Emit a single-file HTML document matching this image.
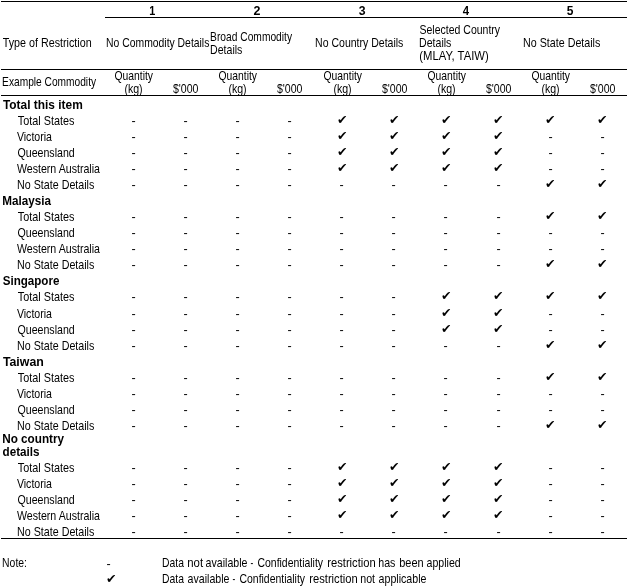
<!DOCTYPE html>
<html lang="en">
<head>
<meta charset="utf-8">
<title>Confidentiality restrictions by commodity, country and state</title>
<style>
html,body{margin:0;padding:0;background:#fff}
body{position:relative;width:627px;height:587px;overflow:hidden;color:#000;font:13px/13px "Liberation Sans",sans-serif}
.ln{position:absolute;height:1px;background:#000}
.row{position:absolute;left:0;width:627px;height:13px}
.row span{position:absolute;left:0;top:0;display:block;white-space:nowrap;transform-origin:0 0}
.row b{font-weight:bold}
.row .c{top:-1px;font:14px/14px "DejaVu Sans","Liberation Sans",sans-serif;transform:scale(.9)}
.row .c.n{top:0}
.row .d.n{top:1px}
</style>
</head>
<body>
<div class="ln" style="top:1px;left:1px;width:626px"></div>
<div class="ln" style="top:17px;left:105px;width:522px"></div>
<div class="ln" style="top:69px;left:1px;width:626px"></div>
<div class="ln" style="top:95px;left:1px;width:626px"></div>
<div class="ln" style="top:538px;left:1px;width:626px"></div>
<div class="row h" style="top:4px">
<span style="transform:translateX(149.27px) scaleX(0.8333)"><b>1</b></span>
<span style="transform:translateX(253.52px) scaleX(0.9600)"><b>2</b></span>
<span style="transform:translateX(358.65px) scaleX(0.9412)"><b>3</b></span>
<span style="transform:translateX(462.78px) scaleX(0.8727)"><b>4</b></span>
<span style="transform:translateX(566.65px) scaleX(0.9231)"><b>5</b></span>
</div>
<div class="row h" style="top:23px">
<span style="transform:translateX(419.49px) scaleX(0.8081)">Selected Country</span>
</div>
<div class="row h" style="top:30px">
<span style="transform:translateX(210.11px) scaleX(0.7874)">Broad Commodity</span>
</div>
<div class="row h" style="top:36px">
<span style="transform:translateX(2.79px) scaleX(0.8253)">Type of Restriction</span>
<span style="transform:translateX(106.10px) scaleX(0.7984)">No Commodity Details</span>
<span style="transform:translateX(315.09px) scaleX(0.8093)">No Country Details</span>
<span style="transform:translateX(419.09px) scaleX(0.8131)">Details</span>
<span style="transform:translateX(523.07px) scaleX(0.8227)">No State Details</span>
</div>
<div class="row h" style="top:43px">
<span style="transform:translateX(210.09px) scaleX(0.8131)">Details</span>
</div>
<div class="row h" style="top:49px">
<span style="transform:translateX(419.35px) scaleX(0.8676)">(MLAY, TAIW)</span>
</div>
<div class="row h" style="top:69px">
<span style="transform:translateX(114.50px) scaleX(0.7958)">Quantity</span>
<span style="transform:translateX(218.50px) scaleX(0.7958)">Quantity</span>
<span style="transform:translateX(323.50px) scaleX(0.7958)">Quantity</span>
<span style="transform:translateX(427.50px) scaleX(0.7958)">Quantity</span>
<span style="transform:translateX(531.50px) scaleX(0.7958)">Quantity</span>
</div>
<div class="row h" style="top:75px">
<span style="transform:translateX(2.12px) scaleX(0.7832)">Example Commodity</span>
</div>
<div class="row h" style="top:82px">
<span style="transform:translateX(124.39px) scaleX(0.8144)">(kg)</span>
<span style="transform:translateX(172.90px) scaleX(0.8130)">$&#39;000</span>
<span style="transform:translateX(228.39px) scaleX(0.8144)">(kg)</span>
<span style="transform:translateX(276.90px) scaleX(0.8130)">$&#39;000</span>
<span style="transform:translateX(333.39px) scaleX(0.8144)">(kg)</span>
<span style="transform:translateX(381.90px) scaleX(0.8130)">$&#39;000</span>
<span style="transform:translateX(437.39px) scaleX(0.8144)">(kg)</span>
<span style="transform:translateX(485.90px) scaleX(0.8130)">$&#39;000</span>
<span style="transform:translateX(541.39px) scaleX(0.8144)">(kg)</span>
<span style="transform:translateX(589.90px) scaleX(0.8130)">$&#39;000</span>
</div>
<div class="row g" style="top:98px">
<span style="transform:translateX(2.89px) scaleX(0.9159)"><b>Total this item</b></span>
</div>
<div class="row r" style="top:114px">
<span style="transform:translateX(17.79px) scaleX(0.8327)">Total States</span>
<span class="d" style="transform:translateX(131.40px) scaleX(0.9600)">-</span>
<span class="d" style="transform:translateX(183.40px) scaleX(0.9600)">-</span>
<span class="d" style="transform:translateX(235.40px) scaleX(0.9600)">-</span>
<span class="d" style="transform:translateX(287.40px) scaleX(0.9600)">-</span>
<span class="c" style="left:337px">✔</span>
<span class="c" style="left:389px">✔</span>
<span class="c" style="left:441px">✔</span>
<span class="c" style="left:493px">✔</span>
<span class="c" style="left:545px">✔</span>
<span class="c" style="left:597px">✔</span>
</div>
<div class="row r" style="top:130px">
<span style="transform:translateX(16.90px) scaleX(0.8140)">Victoria</span>
<span class="d" style="transform:translateX(131.40px) scaleX(0.9600)">-</span>
<span class="d" style="transform:translateX(183.40px) scaleX(0.9600)">-</span>
<span class="d" style="transform:translateX(235.40px) scaleX(0.9600)">-</span>
<span class="d" style="transform:translateX(287.40px) scaleX(0.9600)">-</span>
<span class="c" style="left:337px">✔</span>
<span class="c" style="left:389px">✔</span>
<span class="c" style="left:441px">✔</span>
<span class="c" style="left:493px">✔</span>
<span class="d" style="transform:translateX(548.40px) scaleX(0.9600)">-</span>
<span class="d" style="transform:translateX(600.40px) scaleX(0.9600)">-</span>
</div>
<div class="row r" style="top:146px">
<span style="transform:translateX(17.49px) scaleX(0.8160)">Queensland</span>
<span class="d" style="transform:translateX(131.40px) scaleX(0.9600)">-</span>
<span class="d" style="transform:translateX(183.40px) scaleX(0.9600)">-</span>
<span class="d" style="transform:translateX(235.40px) scaleX(0.9600)">-</span>
<span class="d" style="transform:translateX(287.40px) scaleX(0.9600)">-</span>
<span class="c" style="left:337px">✔</span>
<span class="c" style="left:389px">✔</span>
<span class="c" style="left:441px">✔</span>
<span class="c" style="left:493px">✔</span>
<span class="d" style="transform:translateX(548.40px) scaleX(0.9600)">-</span>
<span class="d" style="transform:translateX(600.40px) scaleX(0.9600)">-</span>
</div>
<div class="row r" style="top:162px">
<span style="transform:translateX(16.90px) scaleX(0.8177)">Western Australia</span>
<span class="d" style="transform:translateX(131.40px) scaleX(0.9600)">-</span>
<span class="d" style="transform:translateX(183.40px) scaleX(0.9600)">-</span>
<span class="d" style="transform:translateX(235.40px) scaleX(0.9600)">-</span>
<span class="d" style="transform:translateX(287.40px) scaleX(0.9600)">-</span>
<span class="c" style="left:337px">✔</span>
<span class="c" style="left:389px">✔</span>
<span class="c" style="left:441px">✔</span>
<span class="c" style="left:493px">✔</span>
<span class="d" style="transform:translateX(548.40px) scaleX(0.9600)">-</span>
<span class="d" style="transform:translateX(600.40px) scaleX(0.9600)">-</span>
</div>
<div class="row r" style="top:178px">
<span style="transform:translateX(17.07px) scaleX(0.8227)">No State Details</span>
<span class="d" style="transform:translateX(131.40px) scaleX(0.9600)">-</span>
<span class="d" style="transform:translateX(183.40px) scaleX(0.9600)">-</span>
<span class="d" style="transform:translateX(235.40px) scaleX(0.9600)">-</span>
<span class="d" style="transform:translateX(287.40px) scaleX(0.9600)">-</span>
<span class="d" style="transform:translateX(339.40px) scaleX(0.9600)">-</span>
<span class="d" style="transform:translateX(391.40px) scaleX(0.9600)">-</span>
<span class="d" style="transform:translateX(443.40px) scaleX(0.9600)">-</span>
<span class="d" style="transform:translateX(496.40px) scaleX(0.9600)">-</span>
<span class="c" style="left:545px">✔</span>
<span class="c" style="left:597px">✔</span>
</div>
<div class="row g" style="top:194px">
<span style="transform:translateX(2.21px) scaleX(0.8993)"><b>Malaysia</b></span>
</div>
<div class="row r" style="top:210px">
<span style="transform:translateX(17.79px) scaleX(0.8327)">Total States</span>
<span class="d" style="transform:translateX(131.40px) scaleX(0.9600)">-</span>
<span class="d" style="transform:translateX(183.40px) scaleX(0.9600)">-</span>
<span class="d" style="transform:translateX(235.40px) scaleX(0.9600)">-</span>
<span class="d" style="transform:translateX(287.40px) scaleX(0.9600)">-</span>
<span class="d" style="transform:translateX(339.40px) scaleX(0.9600)">-</span>
<span class="d" style="transform:translateX(391.40px) scaleX(0.9600)">-</span>
<span class="d" style="transform:translateX(443.40px) scaleX(0.9600)">-</span>
<span class="d" style="transform:translateX(496.40px) scaleX(0.9600)">-</span>
<span class="c" style="left:545px">✔</span>
<span class="c" style="left:597px">✔</span>
</div>
<div class="row r" style="top:226px">
<span style="transform:translateX(17.49px) scaleX(0.8160)">Queensland</span>
<span class="d" style="transform:translateX(131.40px) scaleX(0.9600)">-</span>
<span class="d" style="transform:translateX(183.40px) scaleX(0.9600)">-</span>
<span class="d" style="transform:translateX(235.40px) scaleX(0.9600)">-</span>
<span class="d" style="transform:translateX(287.40px) scaleX(0.9600)">-</span>
<span class="d" style="transform:translateX(339.40px) scaleX(0.9600)">-</span>
<span class="d" style="transform:translateX(391.40px) scaleX(0.9600)">-</span>
<span class="d" style="transform:translateX(443.40px) scaleX(0.9600)">-</span>
<span class="d" style="transform:translateX(496.40px) scaleX(0.9600)">-</span>
<span class="d" style="transform:translateX(548.40px) scaleX(0.9600)">-</span>
<span class="d" style="transform:translateX(600.40px) scaleX(0.9600)">-</span>
</div>
<div class="row r" style="top:242px">
<span style="transform:translateX(16.90px) scaleX(0.8177)">Western Australia</span>
<span class="d" style="transform:translateX(131.40px) scaleX(0.9600)">-</span>
<span class="d" style="transform:translateX(183.40px) scaleX(0.9600)">-</span>
<span class="d" style="transform:translateX(235.40px) scaleX(0.9600)">-</span>
<span class="d" style="transform:translateX(287.40px) scaleX(0.9600)">-</span>
<span class="d" style="transform:translateX(339.40px) scaleX(0.9600)">-</span>
<span class="d" style="transform:translateX(391.40px) scaleX(0.9600)">-</span>
<span class="d" style="transform:translateX(443.40px) scaleX(0.9600)">-</span>
<span class="d" style="transform:translateX(496.40px) scaleX(0.9600)">-</span>
<span class="d" style="transform:translateX(548.40px) scaleX(0.9600)">-</span>
<span class="d" style="transform:translateX(600.40px) scaleX(0.9600)">-</span>
</div>
<div class="row r" style="top:258px">
<span style="transform:translateX(17.07px) scaleX(0.8227)">No State Details</span>
<span class="d" style="transform:translateX(131.40px) scaleX(0.9600)">-</span>
<span class="d" style="transform:translateX(183.40px) scaleX(0.9600)">-</span>
<span class="d" style="transform:translateX(235.40px) scaleX(0.9600)">-</span>
<span class="d" style="transform:translateX(287.40px) scaleX(0.9600)">-</span>
<span class="d" style="transform:translateX(339.40px) scaleX(0.9600)">-</span>
<span class="d" style="transform:translateX(391.40px) scaleX(0.9600)">-</span>
<span class="d" style="transform:translateX(443.40px) scaleX(0.9600)">-</span>
<span class="d" style="transform:translateX(496.40px) scaleX(0.9600)">-</span>
<span class="c" style="left:545px">✔</span>
<span class="c" style="left:597px">✔</span>
</div>
<div class="row g" style="top:274px">
<span style="transform:translateX(2.67px) scaleX(0.8924)"><b>Singapore</b></span>
</div>
<div class="row r" style="top:290px">
<span style="transform:translateX(17.79px) scaleX(0.8327)">Total States</span>
<span class="d" style="transform:translateX(131.40px) scaleX(0.9600)">-</span>
<span class="d" style="transform:translateX(183.40px) scaleX(0.9600)">-</span>
<span class="d" style="transform:translateX(235.40px) scaleX(0.9600)">-</span>
<span class="d" style="transform:translateX(287.40px) scaleX(0.9600)">-</span>
<span class="d" style="transform:translateX(339.40px) scaleX(0.9600)">-</span>
<span class="d" style="transform:translateX(391.40px) scaleX(0.9600)">-</span>
<span class="c" style="left:441px">✔</span>
<span class="c" style="left:493px">✔</span>
<span class="c" style="left:545px">✔</span>
<span class="c" style="left:597px">✔</span>
</div>
<div class="row r" style="top:307px">
<span style="transform:translateX(16.90px) scaleX(0.8140)">Victoria</span>
<span class="d" style="transform:translateX(131.40px) scaleX(0.9600)">-</span>
<span class="d" style="transform:translateX(183.40px) scaleX(0.9600)">-</span>
<span class="d" style="transform:translateX(235.40px) scaleX(0.9600)">-</span>
<span class="d" style="transform:translateX(287.40px) scaleX(0.9600)">-</span>
<span class="d" style="transform:translateX(339.40px) scaleX(0.9600)">-</span>
<span class="d" style="transform:translateX(391.40px) scaleX(0.9600)">-</span>
<span class="c" style="left:441px">✔</span>
<span class="c" style="left:493px">✔</span>
<span class="d" style="transform:translateX(548.40px) scaleX(0.9600)">-</span>
<span class="d" style="transform:translateX(600.40px) scaleX(0.9600)">-</span>
</div>
<div class="row r" style="top:323px">
<span style="transform:translateX(17.49px) scaleX(0.8160)">Queensland</span>
<span class="d" style="transform:translateX(131.40px) scaleX(0.9600)">-</span>
<span class="d" style="transform:translateX(183.40px) scaleX(0.9600)">-</span>
<span class="d" style="transform:translateX(235.40px) scaleX(0.9600)">-</span>
<span class="d" style="transform:translateX(287.40px) scaleX(0.9600)">-</span>
<span class="d" style="transform:translateX(339.40px) scaleX(0.9600)">-</span>
<span class="d" style="transform:translateX(391.40px) scaleX(0.9600)">-</span>
<span class="c" style="left:441px">✔</span>
<span class="c" style="left:493px">✔</span>
<span class="d" style="transform:translateX(548.40px) scaleX(0.9600)">-</span>
<span class="d" style="transform:translateX(600.40px) scaleX(0.9600)">-</span>
</div>
<div class="row r" style="top:339px">
<span style="transform:translateX(17.07px) scaleX(0.8227)">No State Details</span>
<span class="d" style="transform:translateX(131.40px) scaleX(0.9600)">-</span>
<span class="d" style="transform:translateX(183.40px) scaleX(0.9600)">-</span>
<span class="d" style="transform:translateX(235.40px) scaleX(0.9600)">-</span>
<span class="d" style="transform:translateX(287.40px) scaleX(0.9600)">-</span>
<span class="d" style="transform:translateX(339.40px) scaleX(0.9600)">-</span>
<span class="d" style="transform:translateX(391.40px) scaleX(0.9600)">-</span>
<span class="d" style="transform:translateX(443.40px) scaleX(0.9600)">-</span>
<span class="d" style="transform:translateX(496.40px) scaleX(0.9600)">-</span>
<span class="c" style="left:545px">✔</span>
<span class="c" style="left:597px">✔</span>
</div>
<div class="row g" style="top:355px">
<span style="transform:translateX(2.88px) scaleX(0.9496)"><b>Taiwan</b></span>
</div>
<div class="row r" style="top:371px">
<span style="transform:translateX(17.79px) scaleX(0.8327)">Total States</span>
<span class="d" style="transform:translateX(131.40px) scaleX(0.9600)">-</span>
<span class="d" style="transform:translateX(183.40px) scaleX(0.9600)">-</span>
<span class="d" style="transform:translateX(235.40px) scaleX(0.9600)">-</span>
<span class="d" style="transform:translateX(287.40px) scaleX(0.9600)">-</span>
<span class="d" style="transform:translateX(339.40px) scaleX(0.9600)">-</span>
<span class="d" style="transform:translateX(391.40px) scaleX(0.9600)">-</span>
<span class="d" style="transform:translateX(443.40px) scaleX(0.9600)">-</span>
<span class="d" style="transform:translateX(496.40px) scaleX(0.9600)">-</span>
<span class="c" style="left:545px">✔</span>
<span class="c" style="left:597px">✔</span>
</div>
<div class="row r" style="top:387px">
<span style="transform:translateX(16.90px) scaleX(0.8140)">Victoria</span>
<span class="d" style="transform:translateX(131.40px) scaleX(0.9600)">-</span>
<span class="d" style="transform:translateX(183.40px) scaleX(0.9600)">-</span>
<span class="d" style="transform:translateX(235.40px) scaleX(0.9600)">-</span>
<span class="d" style="transform:translateX(287.40px) scaleX(0.9600)">-</span>
<span class="d" style="transform:translateX(339.40px) scaleX(0.9600)">-</span>
<span class="d" style="transform:translateX(391.40px) scaleX(0.9600)">-</span>
<span class="d" style="transform:translateX(443.40px) scaleX(0.9600)">-</span>
<span class="d" style="transform:translateX(496.40px) scaleX(0.9600)">-</span>
<span class="d" style="transform:translateX(548.40px) scaleX(0.9600)">-</span>
<span class="d" style="transform:translateX(600.40px) scaleX(0.9600)">-</span>
</div>
<div class="row r" style="top:403px">
<span style="transform:translateX(17.49px) scaleX(0.8160)">Queensland</span>
<span class="d" style="transform:translateX(131.40px) scaleX(0.9600)">-</span>
<span class="d" style="transform:translateX(183.40px) scaleX(0.9600)">-</span>
<span class="d" style="transform:translateX(235.40px) scaleX(0.9600)">-</span>
<span class="d" style="transform:translateX(287.40px) scaleX(0.9600)">-</span>
<span class="d" style="transform:translateX(339.40px) scaleX(0.9600)">-</span>
<span class="d" style="transform:translateX(391.40px) scaleX(0.9600)">-</span>
<span class="d" style="transform:translateX(443.40px) scaleX(0.9600)">-</span>
<span class="d" style="transform:translateX(496.40px) scaleX(0.9600)">-</span>
<span class="d" style="transform:translateX(548.40px) scaleX(0.9600)">-</span>
<span class="d" style="transform:translateX(600.40px) scaleX(0.9600)">-</span>
</div>
<div class="row r" style="top:419px">
<span style="transform:translateX(17.07px) scaleX(0.8227)">No State Details</span>
<span class="d" style="transform:translateX(131.40px) scaleX(0.9600)">-</span>
<span class="d" style="transform:translateX(183.40px) scaleX(0.9600)">-</span>
<span class="d" style="transform:translateX(235.40px) scaleX(0.9600)">-</span>
<span class="d" style="transform:translateX(287.40px) scaleX(0.9600)">-</span>
<span class="d" style="transform:translateX(339.40px) scaleX(0.9600)">-</span>
<span class="d" style="transform:translateX(391.40px) scaleX(0.9600)">-</span>
<span class="d" style="transform:translateX(443.40px) scaleX(0.9600)">-</span>
<span class="d" style="transform:translateX(496.40px) scaleX(0.9600)">-</span>
<span class="c" style="left:545px">✔</span>
<span class="c" style="left:597px">✔</span>
</div>
<div class="row g" style="top:432px">
<span style="transform:translateX(2.21px) scaleX(0.9020)"><b>No country</b></span>
</div>
<div class="row g" style="top:445px">
<span style="transform:translateX(2.55px) scaleX(0.8972)"><b>details</b></span>
</div>
<div class="row r" style="top:461px">
<span style="transform:translateX(17.79px) scaleX(0.8327)">Total States</span>
<span class="d" style="transform:translateX(131.40px) scaleX(0.9600)">-</span>
<span class="d" style="transform:translateX(183.40px) scaleX(0.9600)">-</span>
<span class="d" style="transform:translateX(235.40px) scaleX(0.9600)">-</span>
<span class="d" style="transform:translateX(287.40px) scaleX(0.9600)">-</span>
<span class="c" style="left:337px">✔</span>
<span class="c" style="left:389px">✔</span>
<span class="c" style="left:441px">✔</span>
<span class="c" style="left:493px">✔</span>
<span class="d" style="transform:translateX(548.40px) scaleX(0.9600)">-</span>
<span class="d" style="transform:translateX(600.40px) scaleX(0.9600)">-</span>
</div>
<div class="row r" style="top:477px">
<span style="transform:translateX(16.90px) scaleX(0.8140)">Victoria</span>
<span class="d" style="transform:translateX(131.40px) scaleX(0.9600)">-</span>
<span class="d" style="transform:translateX(183.40px) scaleX(0.9600)">-</span>
<span class="d" style="transform:translateX(235.40px) scaleX(0.9600)">-</span>
<span class="d" style="transform:translateX(287.40px) scaleX(0.9600)">-</span>
<span class="c" style="left:337px">✔</span>
<span class="c" style="left:389px">✔</span>
<span class="c" style="left:441px">✔</span>
<span class="c" style="left:493px">✔</span>
<span class="d" style="transform:translateX(548.40px) scaleX(0.9600)">-</span>
<span class="d" style="transform:translateX(600.40px) scaleX(0.9600)">-</span>
</div>
<div class="row r" style="top:493px">
<span style="transform:translateX(17.49px) scaleX(0.8160)">Queensland</span>
<span class="d" style="transform:translateX(131.40px) scaleX(0.9600)">-</span>
<span class="d" style="transform:translateX(183.40px) scaleX(0.9600)">-</span>
<span class="d" style="transform:translateX(235.40px) scaleX(0.9600)">-</span>
<span class="d" style="transform:translateX(287.40px) scaleX(0.9600)">-</span>
<span class="c" style="left:337px">✔</span>
<span class="c" style="left:389px">✔</span>
<span class="c" style="left:441px">✔</span>
<span class="c" style="left:493px">✔</span>
<span class="d" style="transform:translateX(548.40px) scaleX(0.9600)">-</span>
<span class="d" style="transform:translateX(600.40px) scaleX(0.9600)">-</span>
</div>
<div class="row r" style="top:509px">
<span style="transform:translateX(16.90px) scaleX(0.8177)">Western Australia</span>
<span class="d" style="transform:translateX(131.40px) scaleX(0.9600)">-</span>
<span class="d" style="transform:translateX(183.40px) scaleX(0.9600)">-</span>
<span class="d" style="transform:translateX(235.40px) scaleX(0.9600)">-</span>
<span class="d" style="transform:translateX(287.40px) scaleX(0.9600)">-</span>
<span class="c" style="left:337px">✔</span>
<span class="c" style="left:389px">✔</span>
<span class="c" style="left:441px">✔</span>
<span class="c" style="left:493px">✔</span>
<span class="d" style="transform:translateX(548.40px) scaleX(0.9600)">-</span>
<span class="d" style="transform:translateX(600.40px) scaleX(0.9600)">-</span>
</div>
<div class="row r" style="top:525px">
<span style="transform:translateX(17.07px) scaleX(0.8227)">No State Details</span>
<span class="d" style="transform:translateX(131.40px) scaleX(0.9600)">-</span>
<span class="d" style="transform:translateX(183.40px) scaleX(0.9600)">-</span>
<span class="d" style="transform:translateX(235.40px) scaleX(0.9600)">-</span>
<span class="d" style="transform:translateX(287.40px) scaleX(0.9600)">-</span>
<span class="d" style="transform:translateX(339.40px) scaleX(0.9600)">-</span>
<span class="d" style="transform:translateX(391.40px) scaleX(0.9600)">-</span>
<span class="d" style="transform:translateX(443.40px) scaleX(0.9600)">-</span>
<span class="d" style="transform:translateX(496.40px) scaleX(0.9600)">-</span>
<span class="d" style="transform:translateX(548.40px) scaleX(0.9600)">-</span>
<span class="d" style="transform:translateX(600.40px) scaleX(0.9600)">-</span>
</div>
<div class="row n" style="top:556px">
<span style="transform:translateX(2.10px) scaleX(0.8000)">Note:</span>
<span class="d n" style="transform:translateX(106.40px) scaleX(0.9600)">-</span>
<span style="transform:translateX(162.10px) scaleX(0.7962)">Data</span>
<span style="transform:translateX(187.23px) scaleX(0.8759)">not</span>
<span style="transform:translateX(205.59px) scaleX(0.8159)">available</span>
<span style="transform:translateX(250.60px) scaleX(0.6400)">-</span>
<span style="transform:translateX(257.50px) scaleX(0.8025)">Confidentiality</span>
<span style="transform:translateX(327.25px) scaleX(0.8604)">restriction</span>
<span style="transform:translateX(378.29px) scaleX(0.8153)">has</span>
<span style="transform:translateX(399.26px) scaleX(0.8440)">been</span>
<span style="transform:translateX(426.59px) scaleX(0.8123)">applied</span>
</div>
<div class="row n" style="top:572px">
<span class="c n" style="left:106px">✔</span>
<span style="transform:translateX(162.10px) scaleX(0.7962)">Data</span>
<span style="transform:translateX(187.59px) scaleX(0.8159)">available</span>
<span style="transform:translateX(232.60px) scaleX(0.6400)">-</span>
<span style="transform:translateX(239.50px) scaleX(0.8025)">Confidentiality</span>
<span style="transform:translateX(309.25px) scaleX(0.8604)">restriction</span>
<span style="transform:translateX(360.28px) scaleX(0.8175)">not</span>
<span style="transform:translateX(378.59px) scaleX(0.8174)">applicable</span>
</div>
</body>
</html>
